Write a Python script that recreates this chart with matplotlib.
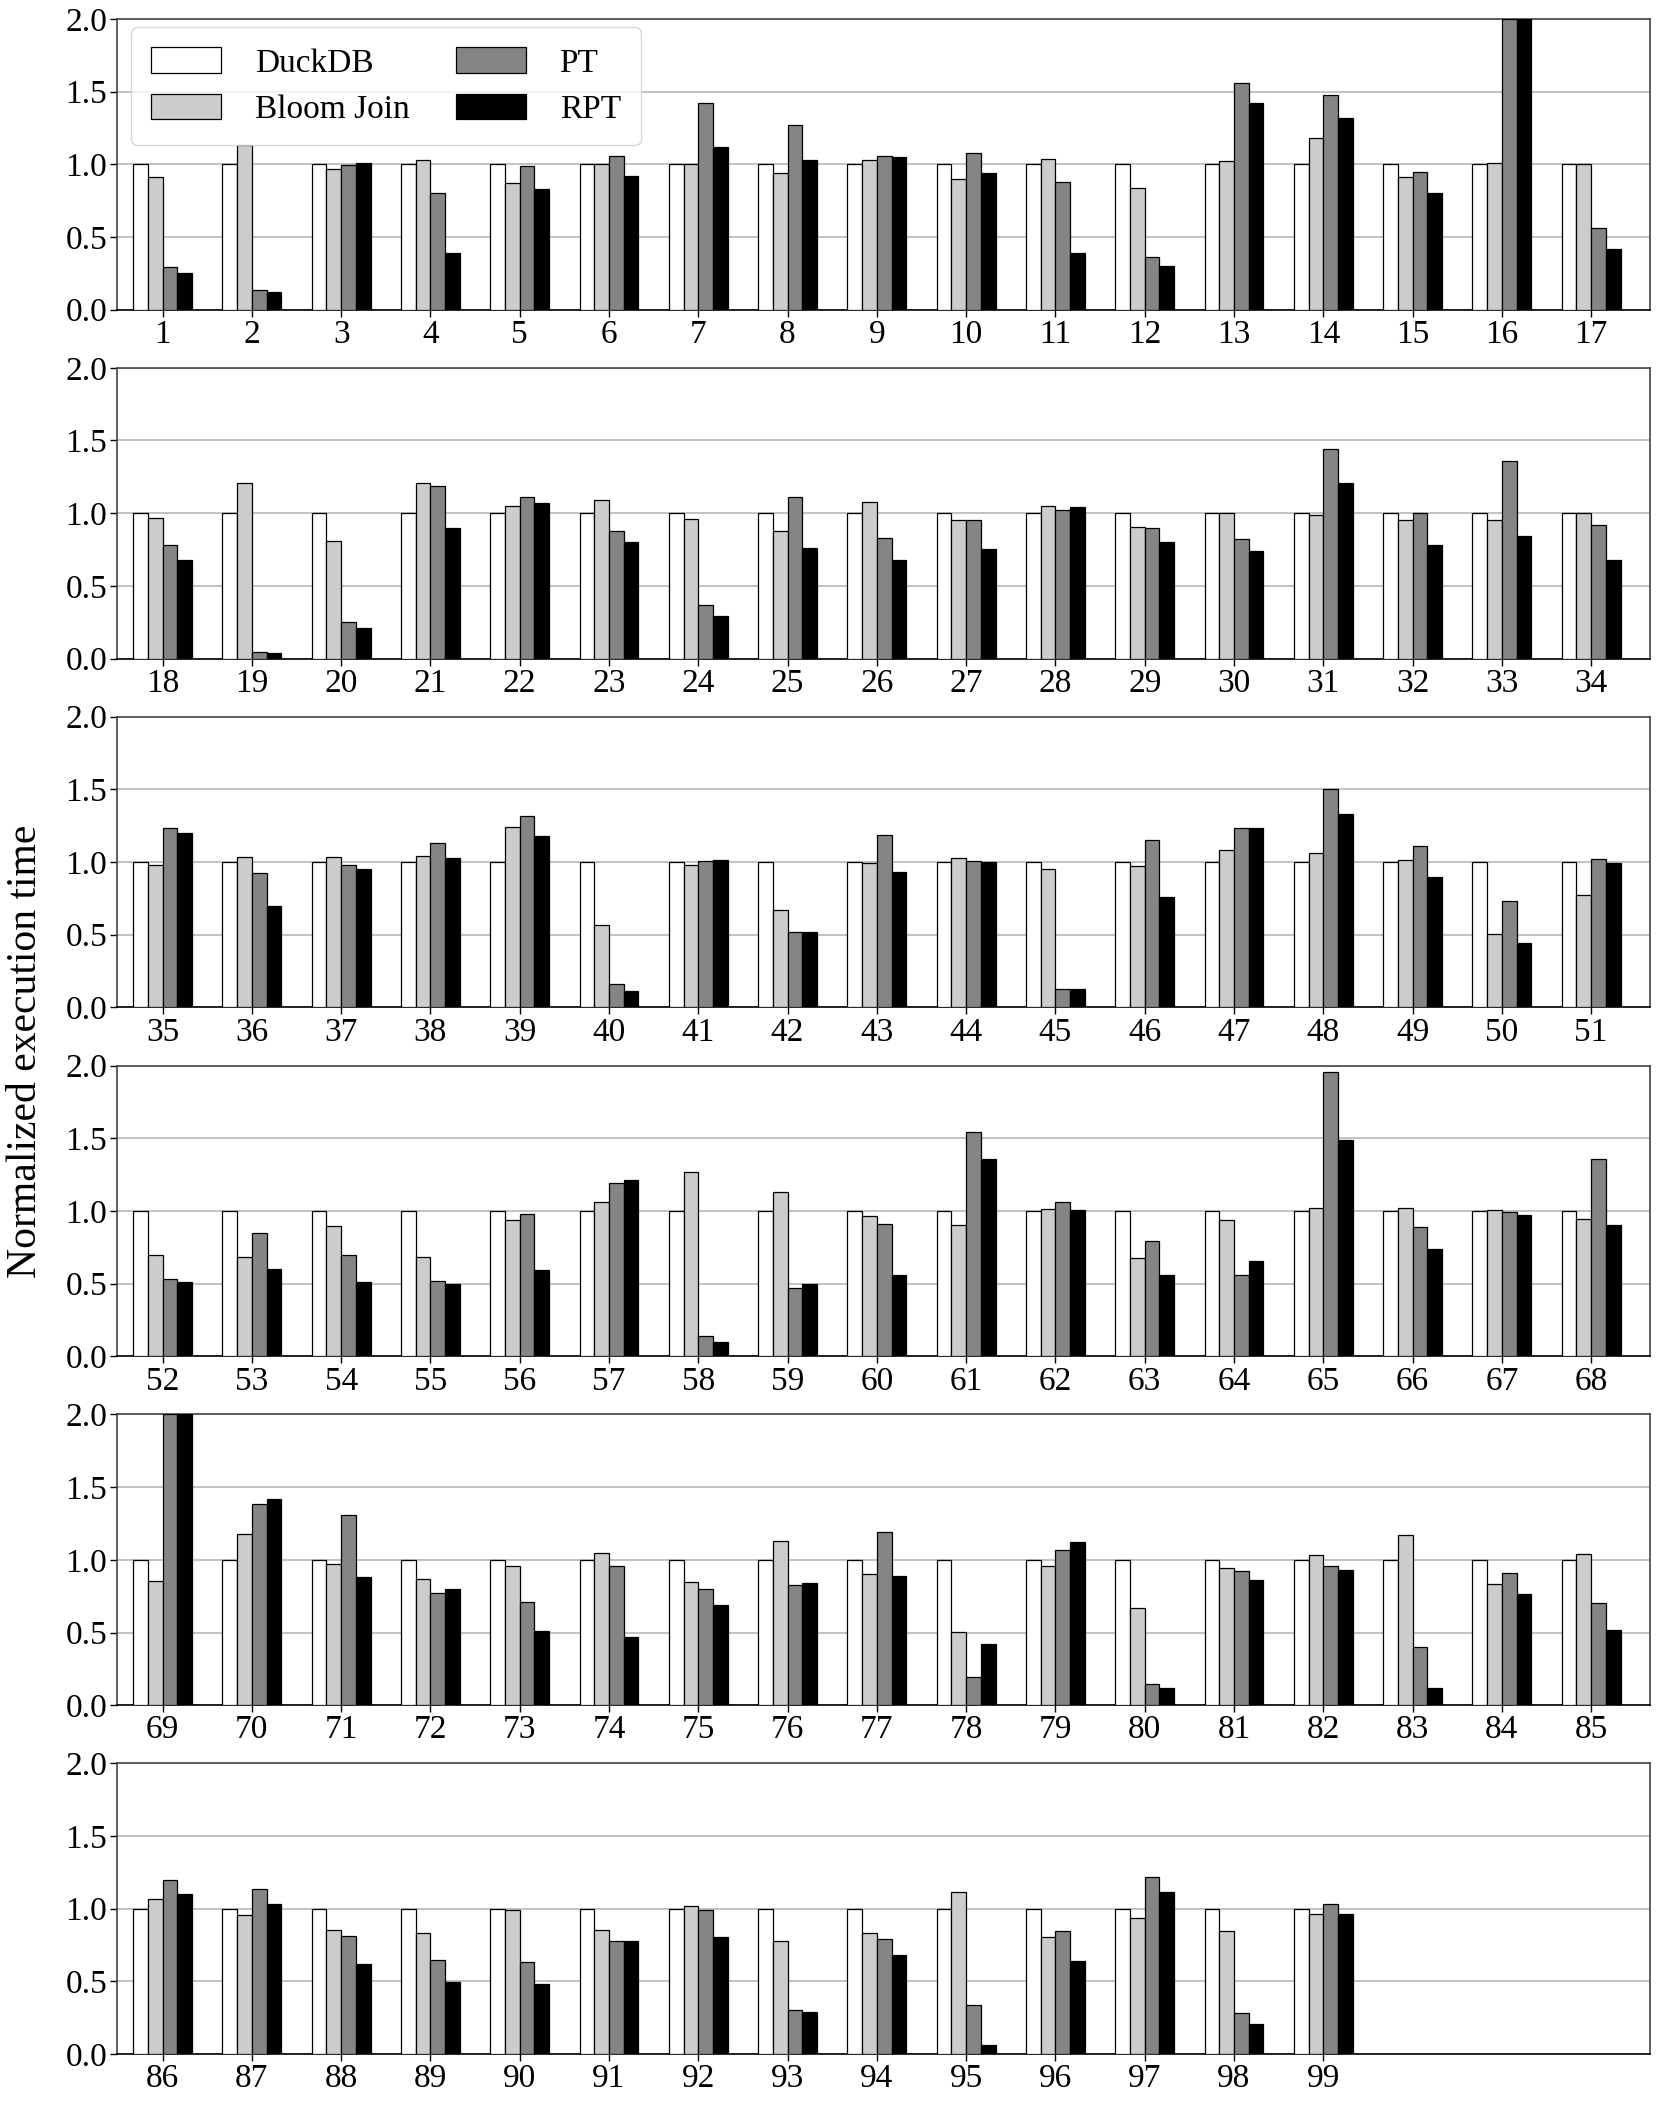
import matplotlib
matplotlib.use("Agg")
import numpy as np
import matplotlib.pyplot as plt

plt.rcParams["font.family"] = ["Liberation Serif", "DejaVu Serif"]
plt.rcParams["font.size"] = 24

# Query ids 1..99
QUERIES = list(range(1, 100))

# Normalized execution time (DuckDB = 1.0)
duckdb = [1.0] * 99

bloom = [
    0.91, 1.13, 0.97, 1.03, 0.87, 1.00, 1.00, 0.94, 1.03, 0.90,
    1.035, 0.84, 1.02, 1.18, 0.915, 1.01, 1.00, 0.97, 1.21, 0.81,
    1.21, 1.05, 1.09, 0.96, 0.88, 1.08, 0.95, 1.05, 0.905, 1.00,
    0.99, 0.955, 0.955, 1.00, 0.98, 1.035, 1.035, 1.045, 1.24, 0.57,
    0.98, 0.67, 0.995, 1.025, 0.955, 0.975, 1.08, 1.065, 1.015, 0.505,
    0.775, 0.70, 0.68, 0.895, 0.68, 0.935, 1.06, 1.27, 1.13, 0.965,
    0.905, 1.01, 0.675, 0.94, 1.02, 1.02, 1.007, 0.943, 0.857, 1.18,
    0.97, 0.87, 0.955, 1.05, 0.85, 1.13, 0.90, 0.505, 0.955, 0.67,
    0.946, 1.033, 1.17, 0.834, 1.04, 1.07, 0.956, 0.853, 0.83, 0.99,
    0.853, 1.02, 0.775, 0.83, 1.117, 0.805, 0.933, 0.844, 0.962,
]

pt = [
    0.29, 0.135, 0.995, 0.80, 0.99, 1.06, 1.42, 1.27, 1.06, 1.075,
    0.876, 0.36, 1.56, 1.48, 0.95, 2.0, 0.56, 0.78, 0.045, 0.25,
    1.19, 1.11, 0.88, 0.365, 1.11, 0.83, 0.95, 1.02, 0.90, 0.82,
    1.44, 1.00, 1.36, 0.92, 1.235, 0.925, 0.98, 1.13, 1.32, 0.16,
    1.01, 0.52, 1.185, 1.01, 0.13, 1.15, 1.235, 1.505, 1.11, 0.73,
    1.02, 0.53, 0.845, 0.695, 0.515, 0.977, 1.19, 0.14, 0.47, 0.91,
    1.54, 1.06, 0.79, 0.557, 1.955, 0.89, 0.995, 1.36, 2.0, 1.387,
    1.31, 0.77, 0.71, 0.96, 0.80, 0.83, 1.19, 0.195, 1.07, 0.147,
    0.92, 0.955, 0.40, 0.907, 0.70, 1.20, 1.135, 0.81, 0.645, 0.63,
    0.78, 0.993, 0.30, 0.795, 0.34, 0.85, 1.218, 0.28, 1.032,
]

rpt = [
    0.25, 0.12, 1.01, 0.39, 0.83, 0.92, 1.12, 1.03, 1.05, 0.94,
    0.39, 0.30, 1.42, 1.32, 0.80, 2.0, 0.42, 0.68, 0.035, 0.21,
    0.90, 1.07, 0.80, 0.29, 0.76, 0.68, 0.755, 1.04, 0.805, 0.74,
    1.21, 0.78, 0.84, 0.675, 1.20, 0.70, 0.955, 1.025, 1.18, 0.11,
    1.015, 0.52, 0.93, 1.00, 0.125, 0.76, 1.235, 1.33, 0.90, 0.44,
    0.995, 0.51, 0.60, 0.51, 0.495, 0.595, 1.215, 0.096, 0.495, 0.557,
    1.36, 1.007, 0.557, 0.658, 1.49, 0.74, 0.975, 0.90, 2.0, 1.42,
    0.88, 0.80, 0.507, 0.47, 0.69, 0.84, 0.89, 0.42, 1.12, 0.12,
    0.86, 0.93, 0.12, 0.762, 0.52, 1.10, 1.03, 0.62, 0.497, 0.485,
    0.777, 0.805, 0.292, 0.683, 0.06, 0.64, 1.115, 0.21, 0.966,
]

SERIES = [
    ("DuckDB", duckdb, "white"),
    ("Bloom Join", bloom, "#cccccc"),
    ("PT", pt, "#858585"),
    ("RPT", rpt, "black"),
]

PER_ROW = 17
N_ROWS = 6
BAR_W = 0.165

fig, axes = plt.subplots(N_ROWS, 1, figsize=(16.6, 21.02), dpi=100)
fig.subplots_adjust(left=0.0705, right=0.994, top=0.991, bottom=0.0228, hspace=0.2)

for r, ax in enumerate(axes):
    start = r * PER_ROW
    qs = QUERIES[start:start + PER_ROW]
    x = np.arange(len(qs))
    for k, (name, vals, color) in enumerate(SERIES):
        offs = (k - 1.5) * BAR_W
        ax.bar(x + offs, vals[start:start + len(qs)], BAR_W,
               color=color, edgecolor="black", linewidth=0.9,
               label=name, zorder=3)

    ax.set_xlim(-0.51, 16.66)
    ax.set_ylim(0, 2.0)
    ax.set_yticks([0, 0.5, 1.0, 1.5, 2.0])
    ax.set_yticklabels(["0.0", "0.5", "1.0", "1.5", "2.0"])
    ax.set_xticks(x)
    ax.set_xticklabels([str(q) for q in qs])
    ax.tick_params(axis="both", labelsize=24, length=5, width=1, pad=2)

    ax.set_axisbelow(True)
    ax.grid(True, axis="y", color="#bdbdbd", linewidth=1.3, zorder=0)
    for s in ax.spines.values():
        s.set_color("#444444")
        s.set_linewidth(1.2)
    ax.spines["bottom"].set_color("black")

    if r == 0:
        ax.legend(loc="upper left", ncol=2, fontsize=24, frameon=True,
                  handlelength=2.1, handleheight=0.8, columnspacing=1.4,
                  borderpad=0.6, labelspacing=0.45, handletextpad=1.0,
                  bbox_to_anchor=(0.004, 1.0), borderaxespad=0.25)

fig.text(0.004, 0.5, "Normalized execution time", rotation=90,
         va="center", ha="left", fontsize=30)

fig.savefig("out.png", dpi=100)
